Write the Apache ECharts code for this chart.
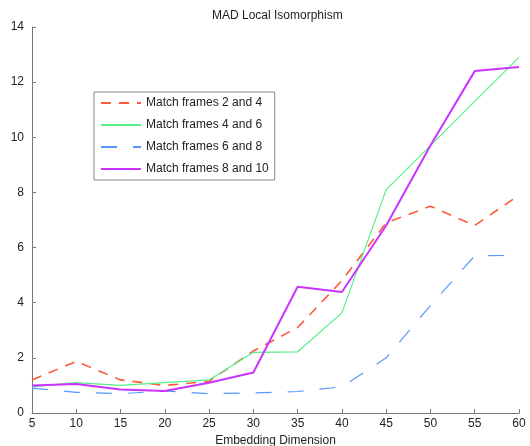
<!DOCTYPE html>
<html><head><meta charset="utf-8">
<script src="https://cdn.jsdelivr.net/npm/echarts@6/dist/echarts.min.js"></script>
<style>html,body{margin:0;padding:0;background:#fff}#c{width:530px;height:446px}</style>
</head><body><div id="c"></div>
<script>
const categories = [5,10,15,20,25,30,35,40,45,50,55,60];
const frames24 = [1.2,1.87,1.2,1.0,1.15,2.25,3.1,4.8,6.9,7.5,6.8,7.9];
const frames46 = [0.95,1.1,1.0,1.1,1.2,2.2,2.22,3.63,8.1,9.7,11.3,12.9];
const frames68 = [0.9,0.75,0.7,0.8,0.7,0.73,0.78,0.95,2.0,3.9,5.7,5.72];
const frames810 = [1.0,1.05,0.85,0.8,1.1,1.47,4.58,4.39,6.8,9.7,12.4,12.55];
const seriesNames = ['Match frames 2 and 4','Match frames 4 and 6','Match frames 6 and 8','Match frames 8 and 10'];
const yTicks = [0,2,4,6,8,10,12,14];

const font = 'Liberation Sans, Arial, sans-serif';
const pair = arr => categories.map((x,i)=>[x,arr[i]]);
const chart = echarts.init(document.getElementById('c'), null, {renderer:'canvas'});
chart.setOption({
  animation:false,
  title:{text:'MAD Local Isomorphism',left:207,top:5,textStyle:{fontSize:12,fontWeight:'normal',color:'#222',fontFamily:font}},
  grid:{left:32,right:11,top:27,bottom:33,outerBoundsMode:'none',containLabel:false},
  legend:{
    orient:'vertical',left:94,top:92,
    borderColor:'#888',borderWidth:1,padding:[5,6,5,6],itemGap:10,
    itemWidth:40,itemHeight:12,
    backgroundColor:'#fff',
    itemStyle:{opacity:0},
    textStyle:{fontSize:12,color:'#222',fontFamily:font},
    data:seriesNames
  },
  xAxis:{
    type:'value',min:5,max:60,interval:5,
    name:'Embedding Dimension',nameLocation:'middle',nameGap:19,
    nameTextStyle:{fontSize:12,color:'#222',fontFamily:font},
    axisLine:{show:true,lineStyle:{color:'#777'}},
    axisTick:{show:true,inside:true,length:4,lineStyle:{color:'#777'}},
    axisLabel:{fontSize:12,color:'#222',fontFamily:font,margin:5},
    splitLine:{show:false}
  },
  yAxis:{
    type:'value',min:0,max:14,interval:2,
    axisLine:{show:true,lineStyle:{color:'#777'}},
    axisTick:{show:true,inside:true,length:4,lineStyle:{color:'#777'}},
    axisLabel:{fontSize:12,color:'#222',fontFamily:font,margin:8,
      formatter:v=>yTicks.includes(v)?String(v):''},
    splitLine:{show:false}
  },
  series:[
    {name:seriesNames[0],type:'line',symbol:'none',data:pair(frames24),
     lineStyle:{color:'#ff5a3c',width:1.6,type:[10,8]},itemStyle:{color:'#ff5a3c'}},
    {name:seriesNames[1],type:'line',symbol:'none',data:pair(frames46),
     lineStyle:{color:'#55ee88',width:1.2},itemStyle:{color:'#55ee88'}},
    {name:seriesNames[2],type:'line',symbol:'none',data:pair(frames68),
     lineStyle:{color:'#5599ff',width:1.2,type:[16,16]},itemStyle:{color:'#5599ff'}},
    {name:seriesNames[3],type:'line',symbol:'none',data:pair(frames810),
     lineStyle:{color:'#cc33ff',width:2},itemStyle:{color:'#cc33ff'}}
  ]
});
</script></body></html>
